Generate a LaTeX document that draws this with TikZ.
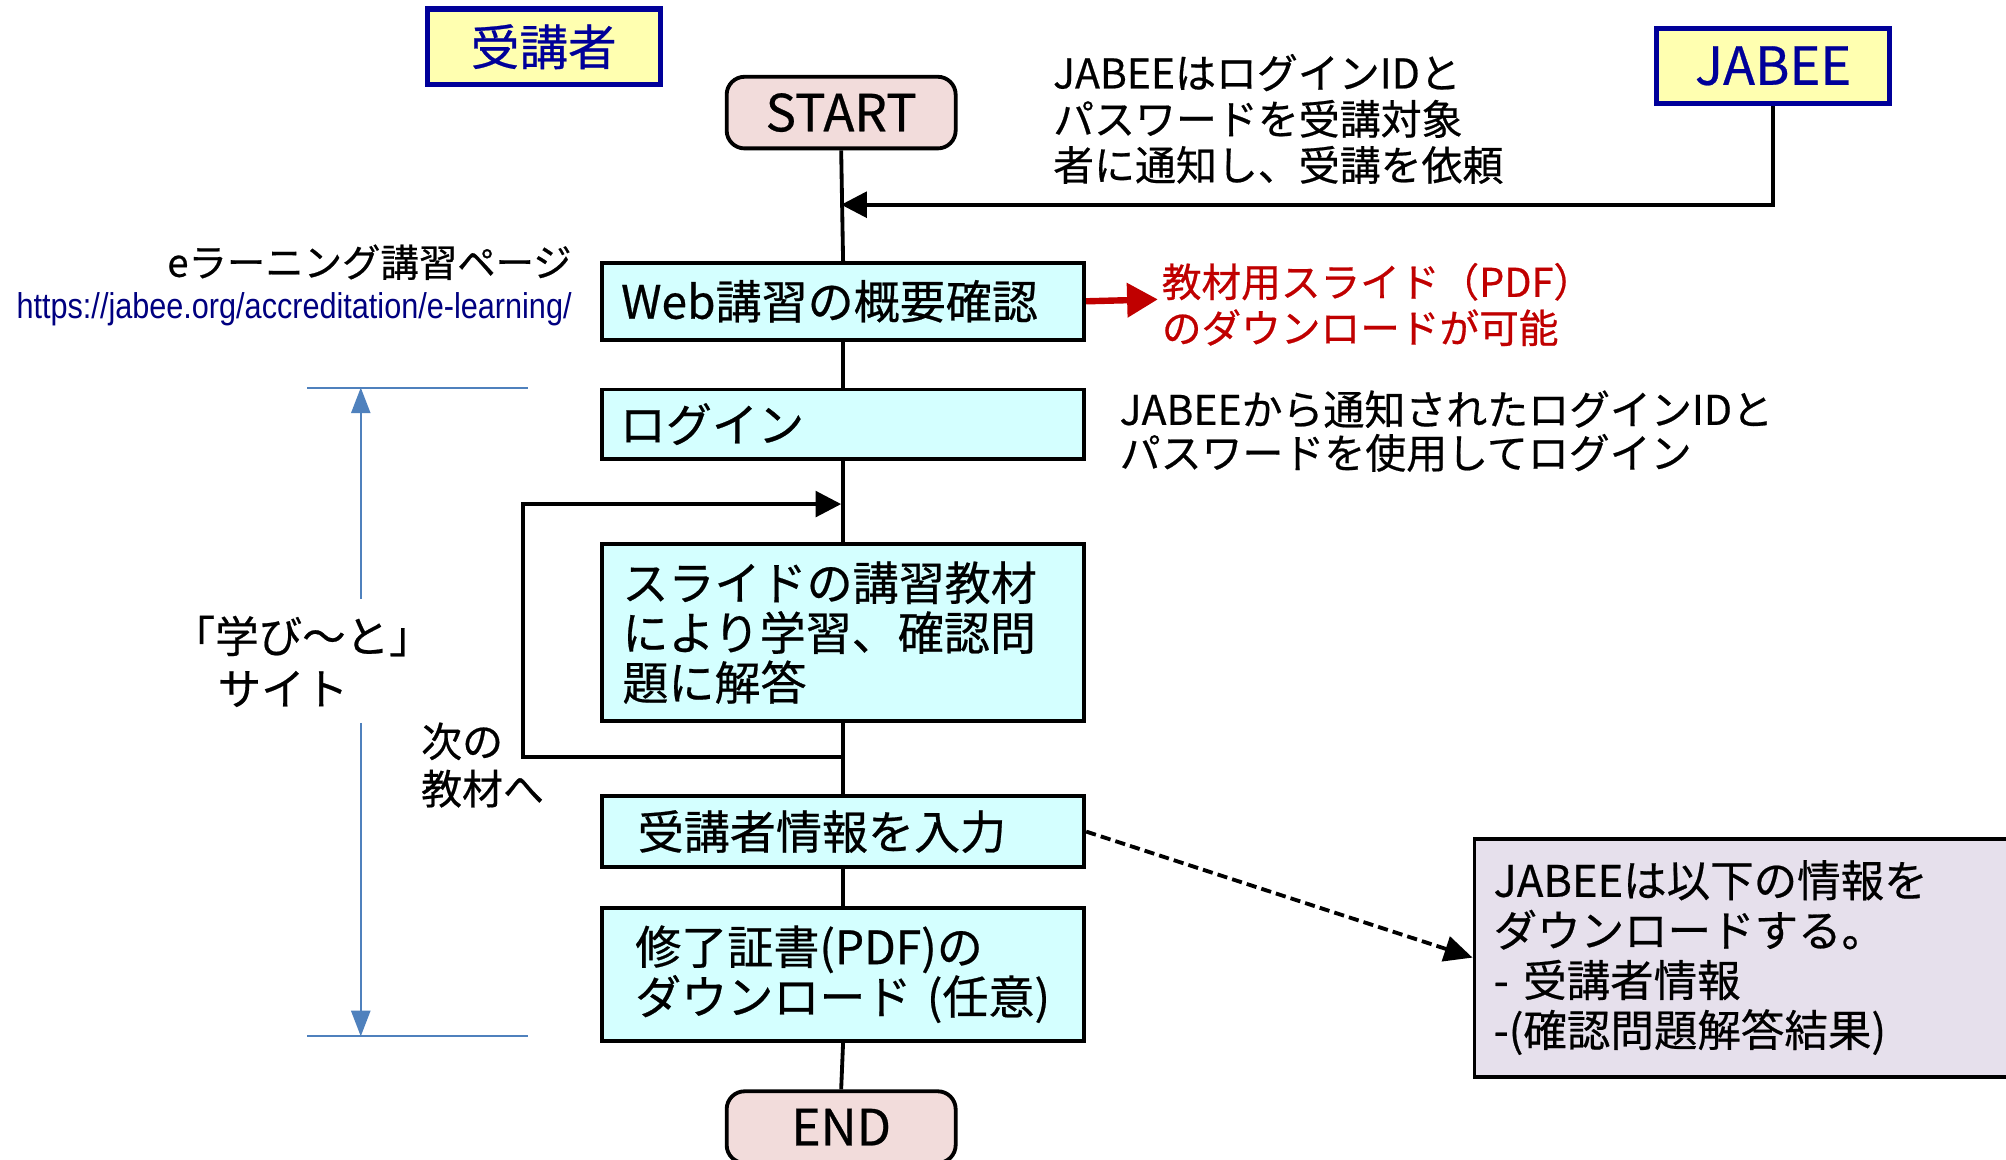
\documentclass[tikz,border=0pt]{standalone}
\usepackage{fontspec}
\usepackage{graphicx}
\setmainfont{Noto Sans CJK JP}[FakeBold=0.5]
\newfontfamily\urlfont{Liberation Sans}
\usetikzlibrary{arrows.meta}
\definecolor{dblue}{HTML}{000099}
\definecolor{yfill}{HTML}{FFFFB0}
\definecolor{pfill}{HTML}{F2DCDB}
\definecolor{cfill}{HTML}{D4FFFF}
\definecolor{lfill}{HTML}{E6E0EC}
\definecolor{dred}{HTML}{C00000}
\definecolor{ublue}{HTML}{000080}
\definecolor{bblue}{HTML}{4F81BD}
\tikzset{
  labelbox/.style={draw=dblue, line width=4pt, fill=yfill, text=dblue,
    minimum width=182pt, minimum height=59pt, inner sep=0pt, anchor=north west},
  termbox/.style={draw=black, line width=3pt, fill=pfill, rounded corners=14pt,
    minimum width=179pt, minimum height=56pt, inner sep=0pt},
  flowbox/.style={draw=black, line width=3pt, fill=cfill, anchor=north west,
    minimum width=377pt, inner ysep=0pt, align=left,
    font=\fontsize{36}{39}\selectfont},
  notebox/.style={draw=black, line width=3pt, fill=lfill, anchor=north west,
    minimum width=430pt, minimum height=186pt, inner xsep=15pt, inner ysep=0pt,
    text width=400pt, align=left, font=\fontsize{34}{39}\selectfont},
  plain/.style={inner sep=0pt, align=left},
  mainline/.style={draw=black, line width=3pt},
  blk/.style={-{Triangle[length=20pt,width=20pt]}, line width=3pt},
  bluebar/.style={draw=bblue, line width=1.5pt},
  bluearrow/.style={draw=bblue, line width=1.5pt, -{Triangle[length=20pt,width=15pt]}},
}
\begin{document}
\begin{tikzpicture}[x=1pt,y=-1pt]
\useasboundingbox (0,0) rectangle (1568,906);
\fill[white] (0,0) rectangle (1568,906);

% header boxes
\node[labelbox, font=\fontsize{38}{42}\selectfont] (student) at (332,5) {受講者};
\node[labelbox, font=\fontsize{41}{44}\selectfont] (jabee) at (1293,20) {JABEE};

% terminals
\node[termbox, font=\fontsize{40}{44}\selectfont] (start) at (657.5,88) {START};
\node[termbox, font=\fontsize{39}{44}\selectfont] (end) at (657.5,881) {END};

% flow boxes
\node[flowbox, minimum height=60pt, inner xsep=15pt, text width=347pt] (web) at (469,204) {Web講習の概要確認};
\node[flowbox, minimum height=54pt, inner xsep=14pt, text width=349pt] (login) at (469,303) {ログイン};
\node[flowbox, minimum height=138pt, inner xsep=16pt, text width=345pt] (slide) at (469,424) {スライドの講習教材\\により学習、確認問\\題に解答};
\node[flowbox, minimum height=55pt, inner xsep=28pt, text width=321pt] (info) at (469,621) {受講者情報を入力};
\node[flowbox, minimum height=104pt, inner xsep=26pt, text width=325pt] (cert) at (469,708) {修了証書(PDF)の\\ダウンロード (任意)};

% note box
\node[notebox] (note) at (1151,654) {JABEEは以下の情報を\\ダウンロードする。\\- 受講者情報\\-(確認問題解答結果)};

% texts
\node[plain, anchor=west, font=\fontsize{32}{36}\selectfont] (jtext) at (823,93) {JABEEはログインIDと\\パスワードを受講対象\\者に通知し、受講を依頼};
\node[plain, anchor=west, text=dred, font=\fontsize{31}{36}\selectfont] (redtext) at (908,238) {教材用スライド（PDF）\\のダウンロードが可能};
\node[plain, anchor=east, font=\fontsize{30}{34}\selectfont] (elearn) at (447,205) {eラーニング講習ページ};
\node[plain, anchor=east, text=ublue, font=\urlfont\fontsize{28}{32}\selectfont] (url) at (447,242) {\scalebox{0.855}[1]{https://jabee.org/accreditation/e-learning/}};
\node[plain, anchor=west, font=\fontsize{32}{34}\selectfont] (logintext) at (875,337) {JABEEから通知されたログインIDと\\パスワードを使用してログイン};
\node[plain, anchor=west, font=\fontsize{32}{37}\selectfont] (next) at (329,598) {次の\\教材へ};
\node[plain, anchor=west, font=\fontsize{34}{41}\selectfont] (site) at (134,517) {「学び～と」\\\hspace*{36pt}サイト};

% main flow line
\draw[mainline] (start.south) -- (web.north);
\draw[mainline] (web.south) -- (login.north);
\draw[mainline] (login.south) -- (slide.north);
\draw[mainline] (slide.south) -- (info.north);
\draw[mainline] (info.south) -- (cert.north);
\draw[mainline] (cert.south) -- (end.north);

% JABEE notification arrow
\coordinate (jin) at (657.5,160);
\draw[blk] (jabee.south) |- (jin);

% loop back arrow
\coordinate (loopout) at (657.5,592);
\coordinate (loopcorner) at (409,394);
\coordinate (loopin) at (657.5,394);
\draw[blk] (loopout) -| (loopcorner) -- (loopin);

% red arrow
\coordinate (redend) at (905,234);
\draw[-{Triangle[length=24pt,width=26pt]}, line width=5pt, draw=dred, fill=dred] (web.east) -- (redend);

% dashed arrow
\draw[-{Triangle[length=22pt,width=20pt]}, line width=3pt, dash pattern=on 8pt off 4pt] (info.east) -- (note.west);

% blue bracket
\coordinate (btl) at (240,303);
\coordinate (btr) at (413,303);
\coordinate (bbl) at (240,810);
\coordinate (bbr) at (413,810);
\coordinate (bt) at (282,303);
\coordinate (bb) at (282,810);
\coordinate (bmt) at (282,468);
\coordinate (bmb) at (282,565);
\draw[bluebar] (btl) -- (btr);
\draw[bluebar] (bbl) -- (bbr);
\draw[bluearrow] (bmt) -- (bt);
\draw[bluearrow] (bmb) -- (bb);
\end{tikzpicture}
\end{document}
